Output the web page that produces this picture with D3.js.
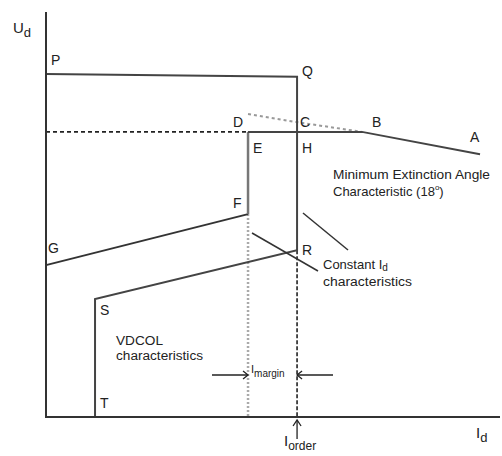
<!DOCTYPE html>
<html>
<head>
<meta charset="utf-8">
<script src="https://cdn.jsdelivr.net/npm/d3@7"></script>
<style>
  body { margin: 0; background: #fff; }
  text { font-family: "Liberation Sans", Arial, sans-serif; fill: #222; }
</style>
</head>
<body>
<svg id="chart" width="502" height="456"></svg>
<script>
// Operating points in % of axis length (Id across, Ud up)
const iOrder = 55.3;
const iMargin = 10.8;
const rectifierPts = [[0, 84.7], [iOrder, 84.0], [iOrder, 41.2], [10.8, 29.1], [10.8, 0]];   // P Q R S T
const inverterPts = [[0, 37.5], [iOrder - iMargin, 50.1], [iOrder - iMargin, 70.4]];          // G F E
const gammaPts = [[iOrder - iMargin, 70.4], [iOrder, 70.4], [69.6, 70.4], [95.6, 64.9]];     // E H B A
const dottedPts = [[iOrder - iMargin, 74.8], [iOrder, 72.8], [69.6, 70.4]];                    // D C B
const pointLabels = [
  { t: 'P', x: 0, y: 84.7, dx: 5, dy: -9 },
  { t: 'Q', x: iOrder, y: 84.0, dx: 5, dy: -1 },
  { t: 'R', x: iOrder, y: 41.2, dx: 5, dy: 5 },
  { t: 'S', x: 10.8, y: 29.1, dx: 5, dy: 16 },
  { t: 'T', x: 10.8, y: 0, dx: 5, dy: -9 },
  { t: 'G', x: 0, y: 37.5, dx: 2, dy: -12 },
  { t: 'F', x: iOrder - iMargin, y: 50.1, dx: -15, dy: -6 },
  { t: 'E', x: iOrder - iMargin, y: 70.4, dx: 5, dy: 21 },
  { t: 'H', x: iOrder, y: 70.4, dx: 5, dy: 21 },
  { t: 'D', x: iOrder - iMargin, y: 74.8, dx: -15, dy: 13 },
  { t: 'C', x: iOrder, y: 72.8, dx: 3, dy: 5 },
  { t: 'B', x: 69.6, y: 70.4, dx: 10, dy: -5 },
  { t: 'A', x: 95.6, y: 64.9, dx: -10, dy: -12 }
];

const svg = d3.select('#chart');
const x = d3.scaleLinear().domain([0, 100]).range([46, 500]);
const y = d3.scaleLinear().domain([0, 100]).range([417, 12]);
const line = d3.line().x(d => x(d[0])).y(d => y(d[1]));

// reference dashes to the axis
svg.append('path')
  .attr('d', line([[0, 70.4], [iOrder - iMargin, 70.4]]))
  .attr('stroke', '#222').attr('stroke-width', 1.6).attr('fill', 'none')
  .attr('stroke-dasharray', '4,3');
svg.append('path')
  .attr('d', line([[iOrder - iMargin, 50.1], [iOrder - iMargin, 0]]))
  .attr('stroke', '#aaa').attr('stroke-width', 2.5).attr('fill', 'none')
  .attr('stroke-dasharray', '2,2');
svg.append('path')
  .attr('d', line([[iOrder, 41.2], [iOrder, 0]]))
  .attr('stroke', '#222').attr('stroke-width', 1.6).attr('fill', 'none')
  .attr('stroke-dasharray', '4,2');

// D C B dotted
svg.append('path')
  .attr('d', line(dottedPts))
  .attr('stroke', '#999').attr('stroke-width', 2).attr('fill', 'none')
  .attr('stroke-dasharray', '3,3');

// main characteristics
svg.append('path')
  .attr('d', line(rectifierPts))
  .attr('stroke', '#444').attr('stroke-width', 2).attr('fill', 'none');
svg.append('path')
  .attr('d', line(inverterPts.slice(0, 2)))
  .attr('stroke', '#333').attr('stroke-width', 2).attr('fill', 'none');
svg.append('path')
  .attr('d', line(inverterPts.slice(1)))
  .attr('stroke', '#777').attr('stroke-width', 2.5).attr('fill', 'none');
svg.append('path')
  .attr('d', line(gammaPts))
  .attr('stroke', '#444').attr('stroke-width', 2).attr('fill', 'none');

// axes
svg.append('path')
  .attr('d', line([[0, 100], [0, 0], [100, 0]]))
  .attr('stroke', '#333').attr('stroke-width', 2).attr('fill', 'none');

// point letters
svg.selectAll('.pl')
  .data(pointLabels)
  .enter()
  .append('text')
  .attr('class', 'pl')
  .attr('x', d => x(d.x) + d.dx)
  .attr('y', d => y(d.y) + d.dy)
  .style('font-size', '14px')
  .text(d => d.t);

// pointer lines for constant Id
svg.append('line')
  .attr('x1', 303).attr('y1', 213).attr('x2', 348).attr('y2', 250)
  .attr('stroke', '#333').attr('stroke-width', 1.5);
svg.append('line')
  .attr('x1', 252).attr('y1', 233).attr('x2', 318).attr('y2', 271)
  .attr('stroke', '#333').attr('stroke-width', 1.5);

// annotations
const note = (tx, ty, str, len) => svg.append('text')
  .attr('x', tx).attr('y', ty)
  .attr('textLength', len).attr('lengthAdjust', 'spacingAndGlyphs')
  .style('font-size', '12px').text(str);
note(333, 179, 'Minimum Extinction Angle', 157);
const ch = svg.append('text').attr('x', 333).attr('y', 196).style('font-size', '13px');
ch.append('tspan').text('Characteristic (18');
ch.append('tspan').attr('dy', -6).style('font-size', '8px').text('o');
ch.append('tspan').attr('dy', 6).text(')');

const cid = svg.append('text').attr('x', 323).attr('y', 269).style('font-size', '13px');
cid.append('tspan').text('Constant I');
cid.append('tspan').attr('dy', 2).style('font-size', '10px').text('d');
note(323, 286, 'characteristics', 89);
note(116, 345, 'VDCOL', 47);
note(116, 360, 'characteristics', 87);

// axis titles
const ud = svg.append('text').attr('x', 13).attr('y', 33).style('font-size', '15px');
ud.append('tspan').text('U');
ud.append('tspan').attr('dy', 4).style('font-size', '13px').text('d');
const id = svg.append('text').attr('x', 476).attr('y', 438).style('font-size', '15px');
id.append('tspan').text('I');
id.append('tspan').attr('dy', 4).style('font-size', '13px').text('d');
const io = svg.append('text').attr('x', 284).attr('y', 446).style('font-size', '15px');
io.append('tspan').text('I');
io.append('tspan').attr('dy', 4).style('font-size', '12px').text('order');

// Iorder arrow
svg.append('line')
  .attr('x1', x(iOrder)).attr('y1', 439).attr('x2', x(iOrder)).attr('y2', 421)
  .attr('stroke', '#222').attr('stroke-width', 1.3);
svg.append('path')
  .attr('d', `M${x(iOrder) - 4},${426} L${x(iOrder)},${420} L${x(iOrder) + 4},${426}`)
  .attr('stroke', '#222').attr('stroke-width', 1.3).attr('fill', 'none');

// Imargin arrows
const ay = 375;
svg.append('line').attr('x1', 212).attr('y1', ay).attr('x2', x(iOrder - iMargin)).attr('y2', ay)
  .attr('stroke', '#222').attr('stroke-width', 1.3);
svg.append('path')
  .attr('d', `M${x(iOrder - iMargin) - 5},${ay - 4} L${x(iOrder - iMargin)},${ay} L${x(iOrder - iMargin) - 5},${ay + 4}`)
  .attr('stroke', '#222').attr('stroke-width', 1.3).attr('fill', 'none');
svg.append('line').attr('x1', 333).attr('y1', ay).attr('x2', x(iOrder)).attr('y2', ay)
  .attr('stroke', '#222').attr('stroke-width', 1.3);
svg.append('path')
  .attr('d', `M${x(iOrder) + 5},${ay - 4} L${x(iOrder)},${ay} L${x(iOrder) + 5},${ay + 4}`)
  .attr('stroke', '#222').attr('stroke-width', 1.3).attr('fill', 'none');
const im = svg.append('text').attr('x', 251).attr('y', 373).style('font-size', '11px');
im.append('tspan').text('I');
im.append('tspan').attr('dy', 4).style('font-size', '10px').text('margin');
</script>
</body>
</html>
